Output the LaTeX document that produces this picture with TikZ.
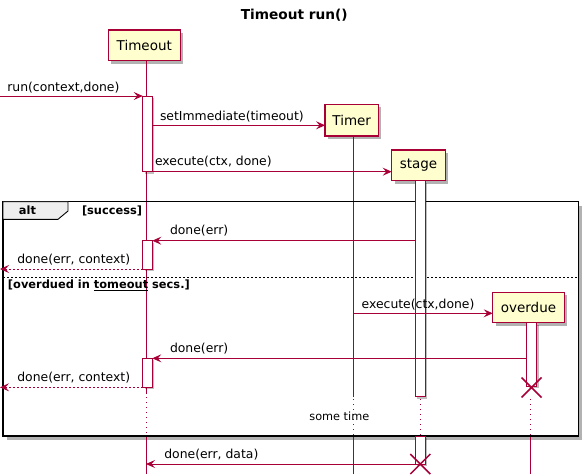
\documentclass[tikz,border=0pt]{standalone}
\usepackage{fontspec}
\setmainfont{DejaVu Sans}
\usetikzlibrary{arrows.meta,shadows,shapes.misc,calc}
\definecolor{pline}{HTML}{A80036}
\definecolor{pfill}{HTML}{FEFECE}
\definecolor{tabfill}{HTML}{EEEEEE}
\begin{document}
\begin{tikzpicture}[x=1pt,y=-1pt,
 every node/.style={inner sep=0pt,outer sep=0pt},
 part/.style={draw=pline,fill=pfill,line width=1.2pt,font=\fontsize{13.5}{16}\selectfont,
   drop shadow={shadow xshift=3pt,shadow yshift=-3pt,fill=black,opacity=0.3}},
 act/.style={draw=pline,fill=white,line width=0.9pt,minimum width=9.6pt,anchor=north,
   drop shadow={shadow xshift=2pt,shadow yshift=-2pt,fill=black,opacity=0.25}},
 msg/.style={draw=pline,line width=0.9pt,-{Stealth[length=9pt,width=8pt,inset=3.5pt]}},
 ret/.style={msg,dash pattern=on 2pt off 2pt},
 life/.style={draw=pline,line width=0.9pt},
 lifedot/.style={life,dash pattern=on 1pt off 4pt},
 lbl/.style={anchor=west,font=\fontsize{12.4}{14}\selectfont},
 grp/.style={font=\fontsize{11.4}{13}\selectfont\bfseries},
 kill/.style={draw=pline,cross out,minimum size=20pt,line width=1.5pt}
]
\useasboundingbox (0,0) rectangle (588,474);
\node[font=\fontsize{13.7}{16}\selectfont\bfseries] (title) at (294.3,15) {Timeout run()};
% frame
\node[fill=white,minimum width=575.3pt,minimum height=234.3pt,anchor=north west,
  drop shadow={shadow xshift=4pt,shadow yshift=-4pt,fill=black,opacity=0.3}] (alt) at (3,201.7) {};
% participants
\node[part,minimum width=72pt,minimum height=30.7pt] (tmo) at (144.3,45.3) {Timeout};
\node[part,minimum width=53.3pt,minimum height=31.7pt] (tim) at (351.7,120.2) {Timer};
\node[part,minimum width=53.6pt,minimum height=30.7pt] (stg) at (418.5,165.3) {stage};
\node[part,minimum width=71.6pt,minimum height=30.4pt] (ovd) at (528.5,307.5) {overdue};
\coordinate (tmoL) at ([xshift=1.7pt]tmo.south);
\coordinate (timL) at ([xshift=1.6pt]tim.south);
\coordinate (stgL) at ([xshift=1.8pt]stg.south);
\coordinate (ovdL) at ([xshift=1.8pt]ovd.south);
% lifelines
\draw[life] (tmoL) -- (tmoL |- 0,394);
\draw[lifedot] (tmoL |- 0,397) -- (tmoL |- 0,435);
\draw[life] (tmoL |- 0,436) -- (tmoL |- 0,474);
\draw[life] (timL) -- (timL |- 0,397);
\draw[lifedot] (timL |- 0,399) -- (timL |- 0,435);
\draw[life] (timL |- 0,436) -- (timL |- 0,474);
\draw[lifedot] (stgL |- 0,399) -- (stgL |- 0,435);
\draw[life] (ovdL) -- (ovdL |- 0,387);
\draw[lifedot] (ovdL |- 0,399) -- (ovdL |- 0,435);
\draw[life] (ovdL |- 0,436) -- (ovdL |- 0,474);
% frame border and labels
\draw[line width=1.5pt] (alt.north west) rectangle (alt.south east);
\draw[fill=tabfill,line width=0.9pt] (alt.north west) -- (68,201.7) -- (68,211) -- (58,219.3) -- (3,219.3) -- cycle;
\node[grp] (altlbl) at (27.5,210.7) {alt};
\node[grp,anchor=west] (g1) at (82,210.7) {[success]};
\draw[dash pattern=on 2pt off 2pt,line width=0.7pt] (3,277.7) -- (578.3,277.7);
\node[grp,anchor=west] (g2) at (8,285) {[overdued in \underline{tomeout} secs.]};
\node[font=\fontsize{11.3}{13}\selectfont] (delay) at (339.3,416.3) {some time};
% activations
\node[act,minimum height=75.7pt] (a1) at (147.5,96) {};
\node[act,minimum height=28.3pt] (a2) at (147.5,240.7) {};
\node[act,minimum height=29pt] (a3) at (147.5,358.3) {};
\node[act,minimum width=10pt,minimum height=215.8pt] (s1) at (420.3,180.7) {};
\node[act,minimum width=10pt,minimum height=28pt] (s2) at (420.3,436) {};
\node[act,minimum width=10pt,minimum height=63.3pt] (o1) at (531.7,322.7) {};
% messages
\coordinate (src) at (0,96);
\draw[msg] (src) -- (a1.north west);
\node[lbl] (m1) at (7.3,88) {run(context,done)};
\coordinate (tw) at ($(tim.west)+(0,5.1)$);
\draw[msg] (a1.east |- tw) -- (tw);
\node[lbl] (m2) at (160,117) {setImmediate(timeout)};
\draw[msg] (a1.south east) -- (a1.south east -| stg.west);
\node[lbl] (m3) at (155,161.7) {execute(ctx, done)};
\draw[msg] (s1.west |- a2.north) -- (a2.north east);
\node[lbl] (m4) at (170,231) {done(err)};
\draw[ret] (a2.south west) -- (a2.south west -| src);
\node[lbl] (m5) at (17.3,260) {done(err, context)};
\coordinate (ow) at ($(ovd.west)+(0,5.8)$);
\draw[msg] (ow -| timL) -- (ow);
\node[lbl] (m6) at (361.7,304.3) {execute(ctx,done)};
\draw[msg] (o1.west |- a3.north) -- (a3.north east);
\node[lbl] (m7) at (170,349) {done(err)};
\draw[ret] (a3.south west) -- (a3.south west -| src);
\node[lbl] (m8) at (17.3,378) {done(err, context)};
% destroys
\node[kill] (x1) at (531.5,387.5) {};
\node[kill] (x2) at (420.3,464) {};
\draw[msg] (x2.center) -- (x2.center -| tmoL);
\node[lbl] (m9) at (164.3,454.7) {done(err, data)};
\end{tikzpicture}
\end{document}
